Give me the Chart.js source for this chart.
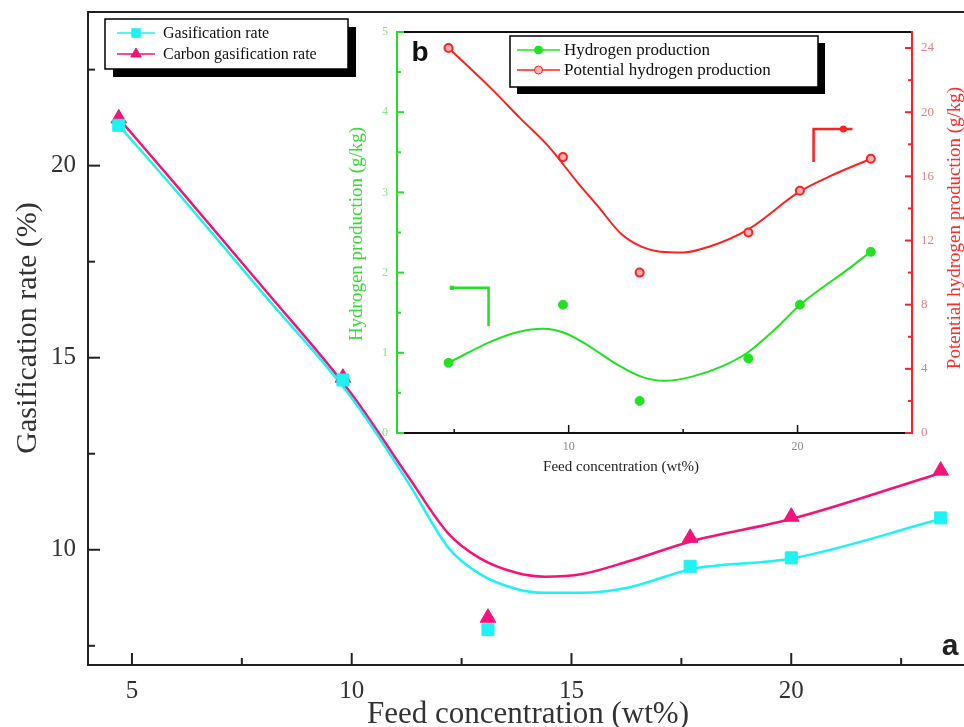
<!DOCTYPE html>
<html>
<head>
<meta charset="utf-8">
<script src="https://cdn.jsdelivr.net/npm/chart.js@4.4.1/dist/chart.umd.min.js"></script>
<style>
  html, body { margin: 0; padding: 0; background: #fff; overflow: hidden; }
  #wrap { position: relative; width: 1030px; height: 727px; }
  #wrap canvas { position: absolute; left: 0; top: 0; }
</style>
</head>
<body>
<div id="wrap">
  <canvas id="mainChart" width="1030" height="727"></canvas>
  <canvas id="insetChart" width="1030" height="727"></canvas>
</div>
<script>
// ---- (a) gasification rate vs feed concentration ----
const feedConc = [4.7, 9.8, 13.1, 17.7, 20, 23.4];
const gasificationRate = [21.05, 14.42, 7.92, 9.57, 9.79, 10.83];
const carbonGasRate = [21.23, 14.48, 8.23, 10.31, 10.86, 12.06];

// fitted curves
const fitConc = [4.7, 6, 8, 10, 11.3, 12.2, 12.9, 13.75, 14.4, 15.25, 16.3, 17.75, 20, 23.4];
const gasRateFit = [21.05, 19.35, 16.65, 13.95, 11.72, 10.05, 9.38, 8.98, 8.88, 8.88, 9.02, 9.5, 9.77, 10.8];
const carbonRateFit = [21.23, 19.5, 16.8, 14.05, 11.88, 10.42, 9.79, 9.4, 9.3, 9.37, 9.7, 10.23, 10.8, 12.0];

const mainXTicks = [5, 10, 15, 20];
const mainXMinor = [7.5, 12.5, 17.5, 22.5];
const mainYTicks = [10, 15, 20];
const mainYMinor = [7.5, 12.5, 17.5, 22.5];

// ---- (b) hydrogen production inset ----
const insetConc = [4.75, 9.75, 13.1, 17.85, 20.1, 23.2];
const h2Prod = [0.875, 1.6, 0.4, 0.93, 1.6, 2.26];
const potH2Prod = [24.0, 17.2, 10.0, 12.5, 15.1, 17.1];

const h2FitConc = [4.75, 6.6, 7.8, 8.9, 9.8, 10.8, 12.0, 13.2, 14.2, 15.35, 16.7, 17.85, 19.0, 20.2, 22.2, 23.2];
const h2Fit = [0.875, 1.14, 1.26, 1.30, 1.25, 1.1, 0.875, 0.70, 0.65, 0.70, 0.83, 1.01, 1.29, 1.62, 2.04, 2.26];
const potFitConc = [4.75, 6.6, 7.9, 9.1, 10.4, 11.3, 12.3, 13.2, 14.0, 15.0, 16.1, 17.85, 20.1, 21.4, 23.2];
const potFit = [24.0, 21.5, 19.6, 17.9, 15.6, 14.1, 12.4, 11.6, 11.3, 11.25, 11.6, 12.7, 15.06, 16.0, 17.1];

// axis-pointer brackets
const h2ArrowConc = [4.9, 6.5, 6.5];
const h2ArrowVal = [1.81, 1.81, 1.33];
const potArrowConc = [20.7, 20.7, 22.0, 22.4];
const potArrowVal = [16.9, 18.95, 18.95, 18.95];

const insetXTicks = [10, 20];
const insetXMinor = [5, 15];
const insetLTicks = [0, 1, 2, 3, 4, 5];
const insetLMinor = [0.5, 1.5, 2.5, 3.5, 4.5];
const insetRTicks = [0, 4, 8, 12, 16, 20, 24];
const insetRMinor = [2, 6, 10, 14, 18, 22];

const CYAN = '#1ef2f2', MAGENTA = '#f5137a', GREEN = '#22e022', RED = '#ff2020';
const SERIF = '"Liberation Serif", "Times New Roman", serif';
const SANS = '"Liberation Sans", Arial, sans-serif';

const pts = (xs, ys) => xs.map((x, i) => ({ x: x, y: ys[i] }));
const setTicks = vals => s => { s.ticks = vals.map(v => ({ value: v })); };
// fixed axis box, no extra label padding so the plot area lands where we want it
const fixBox = (prop, size) => s => {
  s[prop] = size;
  s.paddingTop = 0; s.paddingBottom = 0; s.paddingLeft = 0; s.paddingRight = 0;
};

// ---- small plugins ----
function frameLines(cfg) {
  return {
    id: 'frameLines',
    afterDatasetsDraw(chart) {
      const a = chart.chartArea, ctx = chart.ctx;
      const seg = (col, x1, y1, x2, y2) => {
        if (!col) return;
        ctx.strokeStyle = col;
        ctx.beginPath(); ctx.moveTo(x1, y1); ctx.lineTo(x2, y2); ctx.stroke();
      };
      ctx.save();
      ctx.lineWidth = cfg.width;
      ctx.lineCap = 'square';
      seg(cfg.top, a.left, a.top, a.right, a.top);
      seg(cfg.bottom, a.left, a.bottom, a.right, a.bottom);
      seg(cfg.left, a.left, a.top, a.left, a.bottom);
      seg(cfg.right, a.right, a.top, a.right, a.bottom);
      ctx.restore();
    }
  };
}

function inwardTicks(list) {
  return {
    id: 'inwardTicks',
    afterDatasetsDraw(chart) {
      const ctx = chart.ctx, area = chart.chartArea;
      list.forEach(t => {
        const s = chart.scales[t.axis];
        ctx.save();
        ctx.strokeStyle = t.color;
        ctx.lineWidth = t.width;
        [[t.major, t.majorLen], [t.minor, t.minorLen]].forEach(pair => {
          pair[0].forEach(v => {
            const p = s.getPixelForValue(v);
            ctx.beginPath();
            if (s.position === 'bottom') { ctx.moveTo(p, area.bottom); ctx.lineTo(p, area.bottom - pair[1]); }
            else if (s.position === 'left') { ctx.moveTo(area.left, p); ctx.lineTo(area.left + pair[1], p); }
            else { ctx.moveTo(area.right, p); ctx.lineTo(area.right - pair[1], p); }
            ctx.stroke();
          });
        });
        ctx.restore();
      });
    }
  };
}

function boxLegend(cfg) {
  return {
    id: 'boxLegend',
    afterDraw(chart) {
      const ctx = chart.ctx;
      ctx.save();
      ctx.fillStyle = '#000';
      ctx.fillRect(cfg.x + cfg.shadow, cfg.y + cfg.shadow, cfg.w, cfg.h);
      ctx.fillStyle = '#fff';
      ctx.fillRect(cfg.x, cfg.y, cfg.w, cfg.h);
      ctx.strokeStyle = '#000';
      ctx.lineWidth = 1.5;
      ctx.strokeRect(cfg.x, cfg.y, cfg.w, cfg.h);
      cfg.items.forEach((idx, i) => {
        const ds = chart.data.datasets[idx];
        const y = cfg.y + cfg.rowTop + i * cfg.rowGap;
        ctx.strokeStyle = ds.borderColor;
        ctx.lineWidth = 1.6;
        ctx.beginPath();
        ctx.moveTo(cfg.x + cfg.lineFrom, y);
        ctx.lineTo(cfg.x + cfg.lineTo, y);
        ctx.stroke();
        ctx.fillStyle = ds.backgroundColor;
        ctx.lineWidth = 1;
        Chart.helpers.drawPoint(ctx, { pointStyle: ds.pointStyle, radius: cfg.markerR, borderWidth: 1, rotation: 0 },
          cfg.x + (cfg.lineFrom + cfg.lineTo) / 2, y);
        ctx.fillStyle = '#111';
        ctx.font = cfg.font;
        ctx.textAlign = 'left';
        ctx.textBaseline = 'middle';
        ctx.fillText(ds.label, cfg.x + cfg.textX, y + 1);
      });
      ctx.restore();
    }
  };
}

function freeText(items) {
  return {
    id: 'freeText',
    afterDraw(chart) {
      const ctx = chart.ctx;
      items.forEach(t => {
        ctx.save();
        ctx.translate(t.x, t.y);
        ctx.rotate(t.rot || 0);
        ctx.font = t.font;
        ctx.fillStyle = t.color;
        ctx.textAlign = 'center';
        ctx.textBaseline = 'middle';
        ctx.fillText(t.text, 0, 0);
        ctx.restore();
      });
    }
  };
}

// ---- main chart ----
new Chart(document.getElementById('mainChart').getContext('2d'), {
  type: 'scatter',
  data: {
    datasets: [
      {
        label: 'Gasification rate',
        data: pts(feedConc, gasificationRate),
        pointStyle: 'rect', pointRadius: 8.5,
        backgroundColor: CYAN, borderColor: CYAN, borderWidth: 1
      },
      {
        label: 'Carbon gasification rate',
        data: pts(feedConc, carbonGasRate),
        pointStyle: 'triangle', pointRadius: 9,
        backgroundColor: MAGENTA, borderColor: MAGENTA, borderWidth: 1
      },
      {
        label: 'Gasification rate fit',
        type: 'line',
        data: pts(fitConc, gasRateFit),
        borderColor: CYAN, borderWidth: 2.5, pointRadius: 0,
        cubicInterpolationMode: 'monotone', fill: false
      },
      {
        label: 'Carbon gasification rate fit',
        type: 'line',
        data: pts(fitConc, carbonRateFit),
        borderColor: MAGENTA, borderWidth: 2.5, pointRadius: 0,
        cubicInterpolationMode: 'monotone', fill: false
      }
    ]
  },
  options: {
    responsive: false,
    animation: false,
    events: [],
    layout: { padding: { left: 0, top: 12, right: 19, bottom: 0 } },
    plugins: { legend: { display: false }, tooltip: { enabled: false } },
    scales: {
      x: {
        type: 'linear', position: 'bottom', min: 4, max: 25,
        afterBuildTicks: setTicks(mainXTicks),
        afterFit: fixBox('height', 62),
        grid: { display: false, drawTicks: false },
        border: { display: false },
        ticks: { font: { family: SERIF, size: 25 }, color: '#333', padding: 11, maxRotation: 0, autoSkip: false }
      },
      y: {
        type: 'linear', position: 'left', min: 7, max: 24,
        afterBuildTicks: setTicks(mainYTicks),
        afterFit: fixBox('width', 88),
        grid: { display: false, drawTicks: false },
        border: { display: false },
        ticks: { font: { family: SERIF, size: 25 }, color: '#333', padding: 12, autoSkip: false }
      }
    }
  },
  plugins: [
    frameLines({ width: 2, top: '#222', bottom: '#222', left: '#222' }),
    inwardTicks([
      { axis: 'x', major: mainXTicks, minor: mainXMinor, majorLen: 12, minorLen: 7, color: '#222', width: 2 },
      { axis: 'y', major: mainYTicks, minor: mainYMinor, majorLen: 12, minorLen: 7, color: '#222', width: 2 }
    ]),
    boxLegend({ x: 105, y: 19, w: 243, h: 50, shadow: 8, rowTop: 14, rowGap: 21,
      lineFrom: 12, lineTo: 50, markerR: 6, textX: 58, font: '16px ' + SERIF, items: [0, 1] }),
    freeText([
      { text: 'Gasification rate (%)', x: 28, y: 328, rot: -Math.PI / 2, font: '30px ' + SERIF, color: '#333' },
      { text: 'Feed concentration (wt%)', x: 528, y: 715, font: '31px ' + SERIF, color: '#333' },
      { text: 'a', x: 950, y: 647, font: 'bold 30px ' + SANS, color: '#222' }
    ])
  ]
});

// ---- inset chart ----
new Chart(document.getElementById('insetChart').getContext('2d'), {
  type: 'scatter',
  data: {
    datasets: [
      {
        label: 'Hydrogen production',
        data: pts(insetConc, h2Prod), yAxisID: 'yL',
        pointStyle: 'circle', pointRadius: 4.5,
        backgroundColor: GREEN, borderColor: GREEN, borderWidth: 1
      },
      {
        label: 'Potential hydrogen production',
        data: pts(insetConc, potH2Prod), yAxisID: 'yR',
        pointStyle: 'circle', pointRadius: 4,
        backgroundColor: '#ffb0b0', borderColor: RED, borderWidth: 2
      },
      {
        type: 'line', data: pts(h2FitConc, h2Fit), yAxisID: 'yL',
        borderColor: GREEN, borderWidth: 2, pointRadius: 0,
        cubicInterpolationMode: 'monotone', fill: false
      },
      {
        type: 'line', data: pts(potFitConc, potFit), yAxisID: 'yR',
        borderColor: RED, borderWidth: 2, pointRadius: 0,
        cubicInterpolationMode: 'monotone', fill: false
      },
      {
        type: 'line', data: pts(h2ArrowConc, h2ArrowVal), yAxisID: 'yL',
        borderColor: GREEN, borderWidth: 2.5, tension: 0,
        pointStyle: 'rect', pointRadius: [3, 0, 0], backgroundColor: GREEN, pointBorderWidth: 0
      },
      {
        type: 'line', data: pts(potArrowConc, potArrowVal), yAxisID: 'yR',
        borderColor: RED, borderWidth: 2.5, tension: 0,
        pointStyle: 'circle', pointRadius: [0, 0, 3.5, 0], backgroundColor: RED, pointBorderWidth: 0
      }
    ]
  },
  options: {
    responsive: false,
    animation: false,
    events: [],
    layout: { padding: { left: 357, top: 32, right: 78, bottom: 264 } },
    plugins: { legend: { display: false }, tooltip: { enabled: false } },
    scales: {
      x: {
        type: 'linear', position: 'bottom', min: 2.5, max: 25,
        afterBuildTicks: setTicks(insetXTicks),
        afterFit: fixBox('height', 30),
        grid: { display: false, drawTicks: false },
        border: { display: false },
        ticks: { font: { family: SERIF, size: 12 }, color: '#888', padding: 7, maxRotation: 0, autoSkip: false }
      },
      yL: {
        type: 'linear', position: 'left', min: 0, max: 5,
        afterBuildTicks: setTicks(insetLTicks),
        afterFit: fixBox('width', 40),
        grid: { display: false, drawTicks: false },
        border: { display: false },
        ticks: { font: { family: SERIF, size: 12 }, color: '#88e088', padding: 9, autoSkip: false }
      },
      yR: {
        type: 'linear', position: 'right', min: 0, max: 25,
        afterBuildTicks: setTicks(insetRTicks),
        afterFit: fixBox('width', 40),
        grid: { display: false, drawTicks: false },
        border: { display: false },
        ticks: { font: { family: SERIF, size: 13 }, color: '#e08080', padding: 9, autoSkip: false }
      }
    }
  },
  plugins: [
    frameLines({ width: 2, top: '#111', bottom: '#111', left: GREEN, right: RED }),
    inwardTicks([
      { axis: 'x', major: insetXTicks, minor: insetXMinor, majorLen: 8, minorLen: 4, color: '#111', width: 1.5 },
      { axis: 'yL', major: insetLTicks, minor: insetLMinor, majorLen: 7, minorLen: 4, color: GREEN, width: 2 },
      { axis: 'yR', major: insetRTicks, minor: insetRMinor, majorLen: 7, minorLen: 4, color: RED, width: 2 }
    ]),
    boxLegend({ x: 510, y: 36, w: 308, h: 51, shadow: 7, rowTop: 14, rowGap: 20,
      lineFrom: 7, lineTo: 50, markerR: 4, textX: 54, font: '17px ' + SERIF, items: [0, 1] }),
    freeText([
      { text: 'Hydrogen production (g/kg)', x: 357, y: 234, rot: -Math.PI / 2, font: '19px ' + SERIF, color: '#33dd33' },
      { text: 'Potential hydrogen production (g/kg)', x: 955, y: 228, rot: -Math.PI / 2, font: '19px ' + SERIF, color: '#ff2a2a' },
      { text: 'Feed concentration (wt%)', x: 621, y: 467, font: '15px ' + SERIF, color: '#222' },
      { text: 'b', x: 420, y: 53, font: 'bold 28px ' + SANS, color: '#111' }
    ])
  ]
});
</script>
</body>
</html>
